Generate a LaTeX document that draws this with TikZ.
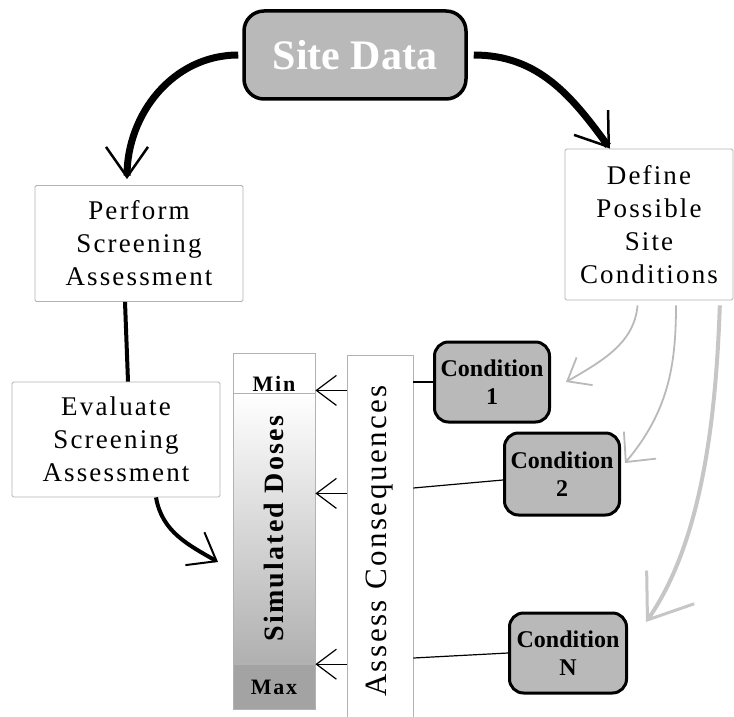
\documentclass[tikz,border=0pt]{standalone}
\usepackage{fontspec}
\setmainfont{Liberation Serif}
\newfontfamily\spacedfont[LetterSpace=8]{Liberation Serif}
\usetikzlibrary{arrows.meta,positioning}
\tikzset{
  sitebox/.style={draw=black, line width=3.5pt, fill=gray!55, rounded corners=20pt,
    minimum width=222pt, minimum height=88pt, text=white, font=\bfseries\fontsize{42}{48}\selectfont},
  taskbox/.style={draw=gray!60, line width=0.8pt, rounded corners=1.5pt, align=center,
    minimum width=208pt, minimum height=116pt, inner sep=1pt, font=\spacedfont\fontsize{27}{33}\selectfont},
  condbox/.style={draw=black, line width=3pt, fill=gray!55, rounded corners=14pt, align=center,
    minimum width=115pt, minimum height=80pt, inner sep=1pt, font=\bfseries\fontsize{24}{28}\selectfont},
  cellbox/.style={draw=gray!60, line width=0.8pt, minimum width=82pt, inner sep=0pt},
  doselabel/.style={inner sep=1pt, font=\spacedfont\bfseries\fontsize{22}{26}\selectfont},
  bigarrow/.style={line width=7pt, -{Straight Barb[length=30pt,width=42pt,line width=2.5pt]}},
  evalarrow/.style={line width=4pt, -{Straight Barb[length=25pt,width=38pt,line width=2pt]}},
  dosearrow/.style={line width=1.2pt, -{Straight Barb[length=20pt,width=30pt,line width=1.2pt]}},
  grayarrow/.style={draw=gray!55, line width=1.8pt, shorten <=5pt},
}
\begin{document}
\begin{tikzpicture}[x=1pt,y=1pt]
\useasboundingbox (0,0) rectangle (734,-717);

\node[sitebox] (site) at (355,-55) {Site Data};
\node[taskbox] (perform) at (139,-243.5) {Perform\\Screening\\Assessment};
\node[taskbox, minimum width=168pt, minimum height=151pt] (define) at (649,-224.5) {Define\\Possible\\Site\\Conditions};
\node[taskbox, minimum height=115pt] (evaluate) at (116,-439.5) {Evaluate\\Screening\\Assessment};

\node[cellbox, minimum height=40pt] (mincell) at (274,-373) {};
\node[cellbox, minimum height=270pt, below=0pt of mincell, top color=white, bottom color=gray!62] (midcell) {};
\node[cellbox, minimum height=45pt, below=0pt of midcell, fill=gray!72] (maxcell) {};
\node[doselabel, anchor=south] (min) at ([yshift=1pt]mincell.south) {Min};
\node[doselabel] (max) at (maxcell) {Max};
\node[doselabel, rotate=90, font=\spacedfont\bfseries\fontsize{28}{32}\selectfont] (dosetext) at (midcell) {Simulated Doses};

\node[cellbox, minimum width=66pt, minimum height=362pt] (assess) at (380,-536) {};
\node[rotate=90, font=\spacedfont\fontsize{31}{35}\selectfont] (assesstext) at ([yshift=-5pt]assess) {Assess Consequences};

\node[condbox] (cond1) at (492,-382) {Condition\\1};
\node[condbox, minimum height=82pt] (cond2) at (562,-474) {Condition\\2};
\node[condbox, minimum width=117pt] (condN) at (568,-653) {Condition\\N};

\coordinate (dmin) at ([yshift=3pt]mincell.south east);
\coordinate (dmid) at ([yshift=-100pt]midcell.north east);
\coordinate (dmax) at (maxcell.north east);
\coordinate (evaltip) at (218,-562);

\draw[bigarrow] ([xshift=-4pt]site.west) to[out=180,in=90] ([shift={(-12pt,6pt)}]perform.north);
\draw[bigarrow] ([xshift=6pt]site.east) to[out=0,in=126] ([xshift=-39pt]define.north);
\draw[line width=4pt] ([xshift=-14pt]perform.south) -- ([xshift=12pt]evaluate.north);
\draw[evalarrow] ([xshift=40pt]evaluate.south) to[out=-80,in=150] (evaltip);

\foreach \c in {dmin,dmid,dmax}
  \draw[dosearrow] (assess.west |- \c) -- (\c);

\draw[line width=1.2pt] (cond1.west) -- (cond1.west -| assess.east);
\draw[line width=1.2pt] ([yshift=-6pt]cond2.west) -- ([yshift=-14pt]cond2.west -| assess.east);
\draw[line width=1.2pt] (condN.west) -- ([yshift=-5pt]condN.west -| assess.east);

\draw[grayarrow, -{Straight Barb[length=20pt,width=32pt,line width=1.8pt]}]
  ([xshift=-11pt]define.south) to[out=-95,in=30] ([xshift=15pt]cond1.east);
\draw[grayarrow, -{Straight Barb[length=22pt,width=42pt,line width=1.8pt]}]
  ([xshift=27pt]define.south) to[out=-90,in=50] ([shift={(4pt,11pt)}]cond2.east);
\draw[grayarrow, draw=gray!45, line width=4pt, -{Straight Barb[length=40pt,width=58pt,line width=3pt]}]
  ([xshift=71pt]define.south) to[out=-92,in=55,looseness=0.8] ([shift={(18pt,31pt)}]condN.east);
\end{tikzpicture}
\end{document}
